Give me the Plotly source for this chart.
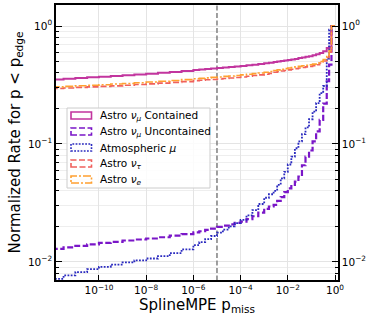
import plotly.graph_objects as go

# ---- data (log10 of bin left edges; last entry is the final right edge) ----
edges_log10 = [-12, -11.5, -11, -10.5, -10, -9.5, -9, -8.5, -8, -7.5, -7, -6.5, -6,
               -5.75, -5.5, -5.25, -5, -4.75, -4.5, -4.25, -4, -3.75, -3.5, -3.25, -3, -2.8,
               -2.6, -2.45, -2.3, -2.15, -2.0, -1.85, -1.7, -1.55, -1.4, -1.25, -1.1, -0.95,
               -0.8, -0.65, -0.5, -0.35, -0.25, -0.15, 0.0]

contained = [0.352, 0.357, 0.362, 0.367, 0.372, 0.377, 0.383, 0.388, 0.394, 0.401, 0.408, 0.415, 0.423,
             0.427, 0.431, 0.436, 0.44, 0.444, 0.449, 0.453, 0.458, 0.464, 0.47, 0.476, 0.483, 0.489,
             0.495, 0.50, 0.505, 0.51, 0.515, 0.52, 0.525, 0.535, 0.54, 0.55, 0.555, 0.565,
             0.575, 0.59, 0.61, 0.65, 0.665, 1.0]

uncontained = [0.0129, 0.0133, 0.0137, 0.0141, 0.0145, 0.0148, 0.0152, 0.0155, 0.0158, 0.0162, 0.0167, 0.0172, 0.0178,
               0.0182, 0.0187, 0.0192, 0.0198, 0.0203, 0.0208, 0.0214, 0.022, 0.0231, 0.0244, 0.0262, 0.0282, 0.0295,
               0.0305, 0.033, 0.0355, 0.039, 0.042, 0.045, 0.048, 0.053, 0.066, 0.078, 0.088, 0.105,
               0.128, 0.16, 0.22, 0.34, 0.47, 1.0]

atmospheric = [0.0072, 0.0077, 0.0082, 0.0087, 0.0091, 0.0095, 0.0099, 0.0103, 0.0107, 0.0112, 0.0119, 0.0128, 0.0139,
               0.0147, 0.0156, 0.0166, 0.0177, 0.0188, 0.020, 0.0213, 0.0227, 0.0248, 0.0275, 0.031, 0.035, 0.0375,
               0.040, 0.045, 0.051, 0.058, 0.067, 0.078, 0.092, 0.105, 0.121, 0.138, 0.162, 0.188,
               0.222, 0.27, 0.31, 0.53, 0.93, 1.0]

nu_tau = [0.295, 0.298, 0.302, 0.305, 0.308, 0.311, 0.315, 0.319, 0.323, 0.328, 0.333, 0.338, 0.344,
          0.347, 0.35, 0.352, 0.355, 0.359, 0.362, 0.366, 0.37, 0.375, 0.38, 0.385, 0.39, 0.397,
          0.405, 0.41, 0.415, 0.42, 0.425, 0.43, 0.435, 0.44, 0.445, 0.45, 0.455, 0.46,
          0.47, 0.485, 0.505, 0.54, 0.60, 1.0]

nu_e = [0.305, 0.308, 0.312, 0.315, 0.318, 0.322, 0.326, 0.33, 0.335, 0.34, 0.345, 0.351, 0.357,
        0.36, 0.363, 0.367, 0.37, 0.374, 0.377, 0.381, 0.385, 0.39, 0.395, 0.40, 0.405, 0.412,
        0.42, 0.425, 0.43, 0.435, 0.44, 0.445, 0.45, 0.455, 0.46, 0.465, 0.47, 0.475,
        0.485, 0.50, 0.52, 0.56, 0.62, 1.0]

p_cut = 1e-5

series_names = ["Astro <i>ν</i><sub><i>μ</i></sub> Contained",
                "Astro <i>ν</i><sub><i>μ</i></sub> Uncontained",
                "Atmospheric <i>μ</i>",
                "Astro <i>ν</i><sub><i>τ</i></sub>",
                "Astro <i>ν</i><sub><i>e</i></sub>"]

x_tick_vals = [1e-10, 1e-8, 1e-6, 1e-4, 1e-2, 1e0]
x_tick_text = ["10<sup>−10</sup>", "10<sup>−8</sup>", "10<sup>−6</sup>",
               "10<sup>−4</sup>", "10<sup>−2</sup>", "10<sup>0</sup>"]
y_tick_vals = [1e-2, 1e-1, 1e0]
y_tick_text = ["10<sup>−2</sup>", "10<sup>−1</sup>", "10<sup>0</sup>"]
y_minor_vals = [m * 10.0 ** e for e in (-3, -2, -1) for m in range(2, 10)]

# ---- styles ----
colors = ["#c2359e", "#7a16c8", "#2a2abf", "#f0605c", "#ffa030"]
dashes = ["solid", "6px,2.5px", "1.8px,1.4px", "6px,2.5px", "8px,2px,2px,2px"]
widths = [2.0, 2.2, 1.8, 1.6, 1.6]

FONT = "DejaVu Sans"

x_edges = [10.0 ** e for e in edges_log10]
all_series = [contained, uncontained, atmospheric, nu_tau, nu_e]

fig = go.Figure()

# threshold line
fig.add_trace(go.Scatter(x=[p_cut, p_cut], y=[1e-4, 1e2], mode="lines",
                         line=dict(color="#808080", width=1.5, dash="5px,2.5px"),
                         showlegend=False, hoverinfo="skip"))

for vals, name, c, d, w in zip(all_series, series_names, colors, dashes, widths):
    yv = list(vals) + [vals[-1]]
    fig.add_trace(go.Scatter(x=x_edges, y=yv, mode="lines", name=name,
                             line=dict(color=c, width=w, dash=d, shape="hv"),
                             showlegend=False))

# invisible trace for the right axis
fig.add_trace(go.Scatter(x=[1e-6], y=[0.1], yaxis="y2", mode="markers",
                         marker=dict(opacity=0), showlegend=False, hoverinfo="skip"))

yrange = [-2.153, 0.178]
xrange_ = [-11.82, 0.127]

fig.update_layout(
    template="none",
    width=374, height=319,
    margin=dict(l=56, r=36, t=5, b=39, pad=0),
    plot_bgcolor="white", paper_bgcolor="white",
    font=dict(family=FONT, color="black", size=11),
    xaxis=dict(type="log", range=xrange_, tickmode="array", tickvals=x_tick_vals, ticktext=x_tick_text,
               automargin=False,
               ticks="inside", ticklen=5, tickwidth=1.2, tickcolor="black",
               showline=True, linecolor="black", linewidth=1.5, mirror=True,
               showgrid=True, gridcolor="#e4e4e4", gridwidth=1, zeroline=False,
               tickfont=dict(size=10.5, family=FONT, color="black"),
               title=dict(text="SplineMPE p<sub>miss</sub>", font=dict(size=15, family=FONT, color="black"),
                          standoff=2)),
    yaxis=dict(type="log", range=yrange, tickmode="array", tickvals=y_tick_vals, ticktext=y_tick_text,
               automargin=False,
               ticks="inside", ticklen=6, tickwidth=1.2, tickcolor="black",
               minor=dict(tickmode="array", tickvals=y_minor_vals, ticks="inside", ticklen=3,
                          tickcolor="black", tickwidth=1, showgrid=True, gridcolor="#eeeeee", gridwidth=1),
               showline=True, linecolor="black", linewidth=1.5, mirror=False,
               showgrid=True, gridcolor="#e4e4e4", gridwidth=1, zeroline=False,
               tickfont=dict(size=10.5, family=FONT, color="black"),
               title=dict(text="Normalized Rate for p < p<sub>edge</sub>",
                          font=dict(size=15, family=FONT, color="black"), standoff=4)),
    yaxis2=dict(type="log", range=yrange, overlaying="y", side="right", tickmode="array",
                tickvals=y_tick_vals, ticktext=y_tick_text, automargin=False,
                ticks="inside", ticklen=6, tickwidth=1.2, tickcolor="black",
                minor=dict(tickmode="array", tickvals=y_minor_vals, ticks="inside", ticklen=3,
                           tickcolor="black", tickwidth=1, showgrid=False),
                showline=True, linecolor="black", linewidth=1.5,
                showgrid=False, zeroline=False,
                tickfont=dict(size=10.5, family=FONT, color="black")),
)

# ---- custom legend (matplotlib-style patch outlines) ----
W, H = 282.0, 275.0  # plot area size in px
def px_x(px):
    return (px - 56) / W
def px_y(py):
    return (280 - py) / H

fig.add_shape(type="rect", xref="x domain", yref="y domain",
              x0=px_x(67), x1=px_x(210), y0=px_y(188), y1=px_y(108),
              line=dict(color="#cccccc", width=1), fillcolor="rgba(255,255,255,0.85)", layer="above")

row_centers = [115.5, 131.5, 147.5, 163.5, 179.5]
for yc, name, c, d in zip(row_centers, series_names, colors, dashes):
    fig.add_shape(type="rect", xref="x domain", yref="y domain",
                  x0=px_x(71), x1=px_x(91.5), y0=px_y(yc + 3.5), y1=px_y(yc - 3.5),
                  line=dict(color=c, width=1.6, dash=d), fillcolor="rgba(0,0,0,0)", layer="above")
    fig.add_annotation(xref="x domain", yref="y domain", x=px_x(98), y=px_y(yc),
                       xanchor="left", yanchor="middle", text=name, showarrow=False,
                       font=dict(size=10.5, family=FONT, color="black"))

fig.write_html("out.html",
               config={"displayModeBar": False},
               post_script="document.body.style.margin='0';document.body.style.overflow='hidden';")
